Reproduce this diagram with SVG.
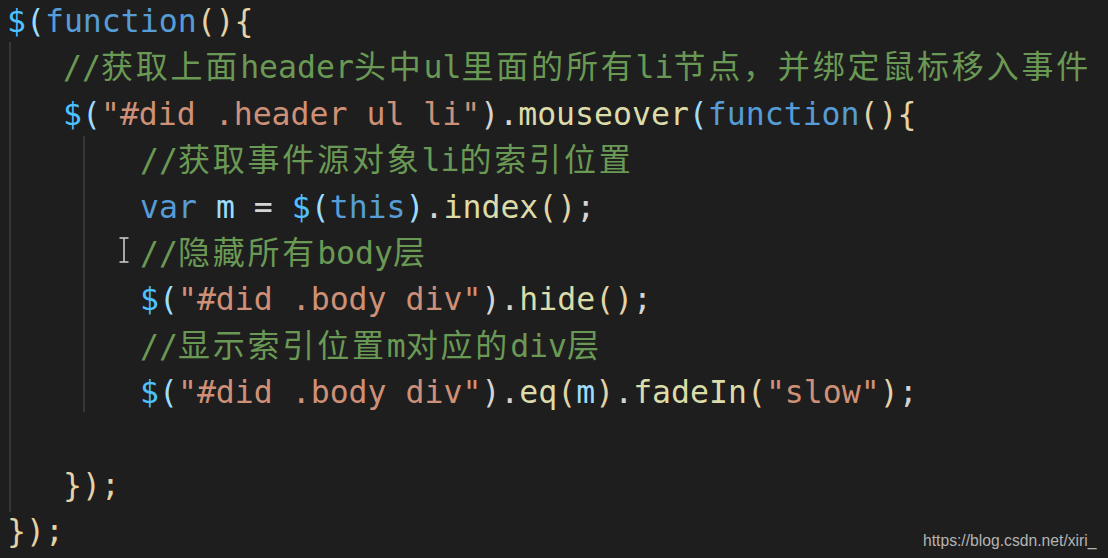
<svg xmlns="http://www.w3.org/2000/svg" width="1108" height="558" viewBox="0 0 1108 558">
<style>
text{font-family:"DejaVu Sans Mono","Noto Sans CJK SC",monospace;font-size:31.5px;white-space:pre}
.c{font-size:32px;letter-spacing:2.8px}
.kw{fill:#569cd6}.dl{fill:#4fc1ff}.v{fill:#9cdcfe}.s{fill:#ce9178}.f{fill:#dcdcaa}.p{fill:#d4d4d4}.br{fill:#e3d3a6}.cm{fill:#6a9955}
.guide{stroke:#404040;stroke-width:1.5}
.wm{font-family:"Liberation Sans",Arial,sans-serif;font-size:15.7px;fill:#b4b4b4}
</style>
<rect width="1108" height="558" fill="#1e1e1e"/>
<g id="guides">
<line class="guide" x1="10" y1="42" x2="10" y2="512"/>
<line class="guide" x1="84" y1="136" x2="84" y2="412"/>
</g>
<g id="line1"><text x="7" y="32"><tspan class="dl">$</tspan><tspan class="v">(</tspan><tspan class="kw">function</tspan><tspan class="br">(){</tspan></text></g>
<g id="line2"><text x="63" y="78.4" class="cm">//<tspan class="c">获取上面</tspan>header<tspan class="c">头中</tspan>ul<tspan class="c">里面的所有</tspan>li<tspan class="c">节点，并绑定鼠标移入事件</tspan></text></g>
<g id="line3"><text x="63" y="124.8"><tspan class="dl">$</tspan><tspan class="v">(</tspan><tspan class="s">"#did .header ul li"</tspan><tspan class="p">).</tspan><tspan class="f">mouseover</tspan><tspan class="v">(</tspan><tspan class="kw">function</tspan><tspan class="br">(){</tspan></text></g>
<g id="line4"><text x="140" y="171.2" class="cm">//<tspan class="c">获取事件源对象</tspan>li<tspan class="c">的索引位置</tspan></text></g>
<g id="line5"><text x="140" y="217.6"><tspan class="kw">var</tspan> <tspan class="v">m</tspan><tspan class="p"> = </tspan><tspan class="dl">$</tspan><tspan class="v">(</tspan><tspan class="kw">this</tspan><tspan class="v">)</tspan><tspan class="p">.</tspan><tspan class="f">index</tspan><tspan class="br">()</tspan><tspan class="p">;</tspan></text></g>
<g id="cursor" stroke="#c8c8c8" stroke-width="1.6" fill="none">
<line x1="124" y1="238" x2="124" y2="262"/>
<line x1="119.5" y1="238" x2="128.5" y2="238"/>
<line x1="119.5" y1="262" x2="128.5" y2="262"/>
</g>
<g id="line6"><text x="140" y="264" class="cm">//<tspan class="c">隐藏所有</tspan>body<tspan class="c">层</tspan></text></g>
<g id="line7"><text x="140" y="310.4"><tspan class="dl">$</tspan><tspan class="v">(</tspan><tspan class="s">"#did .body div"</tspan><tspan class="p">).</tspan><tspan class="f">hide</tspan><tspan class="br">()</tspan><tspan class="p">;</tspan></text></g>
<g id="line8"><text x="140" y="356.8" class="cm">//<tspan class="c">显示索引位置</tspan>m<tspan class="c">对应的</tspan>div<tspan class="c">层</tspan></text></g>
<g id="line9"><text x="140" y="403.2"><tspan class="dl">$</tspan><tspan class="v">(</tspan><tspan class="s">"#did .body div"</tspan><tspan class="p">).</tspan><tspan class="f">eq</tspan><tspan class="br">(</tspan><tspan class="v">m</tspan><tspan class="br">)</tspan><tspan class="p">.</tspan><tspan class="f">fadeIn</tspan><tspan class="br">(</tspan><tspan class="s">"slow"</tspan><tspan class="br">)</tspan><tspan class="p">;</tspan></text></g>
<g id="line11"><text x="63" y="496" class="br">});</text></g>
<g id="line12"><text x="7" y="542.4" class="br">});</text></g>
<g id="watermark"><text class="wm" x="923" y="546">https://blog.csdn.net/xiri_</text></g>
</svg>
